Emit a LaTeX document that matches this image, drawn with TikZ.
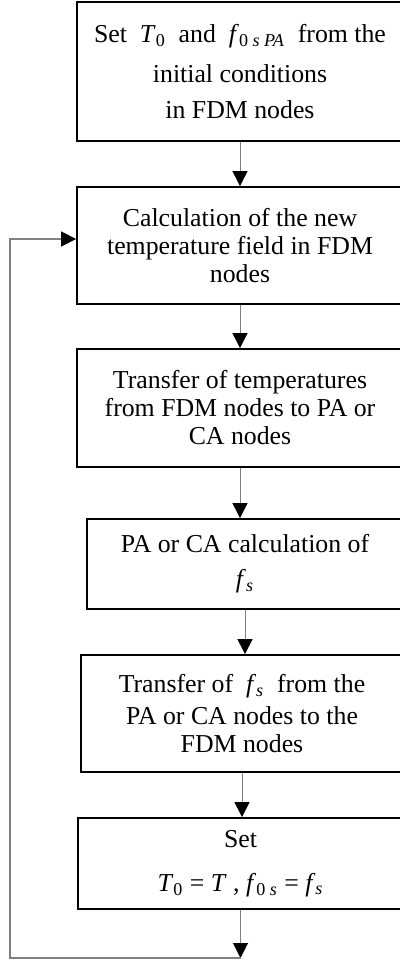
\documentclass[tikz,border=0pt]{standalone}
\usepackage{fontspec}
\usepackage{tikz}
\usetikzlibrary{arrows.meta}
\setmainfont{Liberation Serif}
\definecolor{loopgray}{rgb}{0.5,0.5,0.5}
\newcommand{\vT}{\textit{T}}
\newcommand{\vf}{\textit{f}}

\begin{document}
\begin{tikzpicture}[x=0.5pt,y=-0.5pt,
	stepbox/.style={draw=black,line width=0.9pt,fill=white,align=center,inner sep=0pt,font=\fontsize{12.9}{14}\selectfont},
	flow/.style={draw=loopgray,line width=0.5pt,-{Triangle[length=7.5pt,width=7.5pt,color=black]}},
	back/.style={draw=loopgray,line width=0.7pt,-{Triangle[length=7.5pt,width=7.5pt,color=black]}}]
				\useasboundingbox (0,0) rectangle (400,961);

				\node (init) at (240,71.5) [stepbox,minimum width=163pt,minimum height=69.5pt] {Set\enspace\vT\textsubscript{0}\enspace and\enspace\vf\textsubscript{0 \textit{s PA}}\enspace from the\\[6pt] initial conditions\\[4pt] in FDM nodes};
				\node (field) at (240,245.5) [stepbox,minimum width=163pt,minimum height=58.5pt] {Calculation of the new\\ temperature field in FDM\\ nodes};
				\node (totrans) at (240,408) [stepbox,minimum width=163pt,minimum height=59pt] {Transfer of temperatures\\ from FDM nodes to PA or\\ CA nodes};
				\node (calc) at (245,564) [stepbox,minimum width=158pt,minimum height=45pt] {PA or CA calculation of\\[3.5pt] \vf\textsubscript{\textit{s}}};
				\node (backtrans) at (242,713.5) [stepbox,minimum width=161pt,minimum height=58.5pt] {Transfer of\enspace\vf\textsubscript{\textit{s}}\enspace from the\\[2pt] PA or CA nodes to the\\ FDM nodes};
				\node (reset) at (240.5,863.5) [stepbox,minimum width=162.5pt,minimum height=45.5pt] {Set\\[8pt] \vT\textsubscript{0} = \vT\ , \vf\textsubscript{0 \textit{s}} = \vf\textsubscript{\textit{s}}};

				\coordinate (loopend) at (240.5,958);
				\coordinate (loopcorner) at (10,958);

				\draw[flow] (init) -- (init |- field.north);
				\draw[flow] (field) -- (field |- totrans.north);
				\draw[flow] (totrans) -- (totrans |- calc.north);
				\draw[flow] (calc) -- (calc |- backtrans.north);
				\draw[flow] (backtrans) -- (backtrans |- reset.north);
				\draw[flow] (reset) -- (loopend);
				\draw[back] (loopend) -- (loopcorner) |- ([yshift=3.25pt]field.west);
\end{tikzpicture}
\end{document}
